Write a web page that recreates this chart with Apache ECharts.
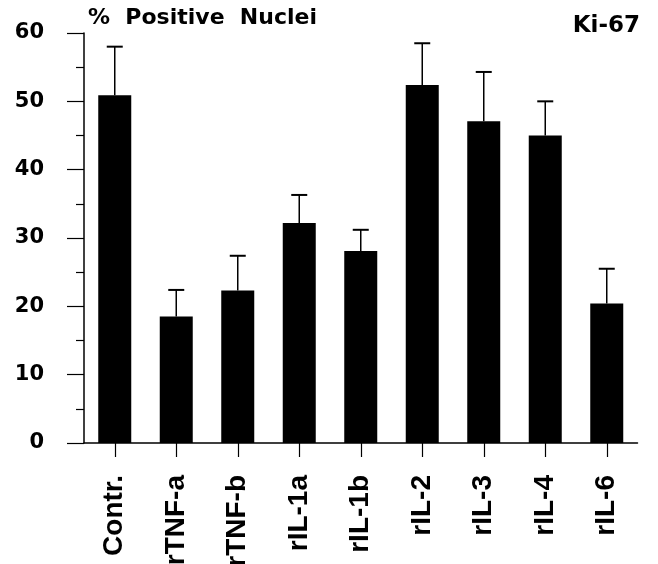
<!DOCTYPE html>
<html>
<head>
<meta charset="utf-8">
<script src="https://cdn.jsdelivr.net/npm/echarts@6/dist/echarts.min.js"></script>
<style>html,body{margin:0;padding:0;background:#fff}#c{width:658px;height:564px}</style>
</head>
<body>
<div id="c"></div>
<script>
const categories = ['Contr.', 'rTNF-a', 'rTNF-b', 'rIL-1a', 'rIL-1b', 'rIL-2', 'rIL-3', 'rIL-4', 'rIL-6'];
const means = [50.9, 18.5, 22.3, 32.2, 28.1, 52.4, 47.1, 45.0, 20.4];
const errTops = [58.0, 22.4, 27.4, 36.3, 31.2, 58.5, 54.3, 50.0, 25.5];
const yTicks = [0, 10, 20, 30, 40, 50, 60];

const chart = echarts.init(document.getElementById('c'), null, {renderer: 'canvas'});
const errData = categories.map((c, i) => [i, means[i], errTops[i]]);

chart.setOption({
  animation: false,
  backgroundColor: '#fff',
  grid: {left: 84, right: 20.5, top: 33, bottom: 121, containLabel: false, outerBoundsMode: 'none'},
  graphic: [
    {type: 'text', left: 88, top: 7, style: {text: '%  Positive  Nuclei', font: 'bold 22px "DejaVu Sans"', fill: '#000'}},
    {type: 'text', right: 18, top: 15, style: {text: 'Ki-67', font: 'bold 23px "DejaVu Sans"', fill: '#000'}}
  ],
  xAxis: {
    type: 'category',
    data: categories,
    axisLine: {show: true, lineStyle: {color: '#000', width: 1.5}},
    axisTick: {show: true, alignWithLabel: true, length: 14, lineStyle: {color: '#000', width: 1.2}},
    axisLabel: {rotate: 90, margin: 32, color: '#000', fontFamily: '"Liberation Sans", Arial', fontWeight: 'bold', fontSize: 28}
  },
  yAxis: {
    type: 'value',
    min: yTicks[0], max: yTicks[yTicks.length - 1], interval: 10,
    splitLine: {show: false},
    axisLine: {show: true, lineStyle: {color: '#000', width: 1.5}},
    axisTick: {show: true, length: 17, lineStyle: {color: '#000', width: 1.2}},
    minorTick: {show: true, splitNumber: 2, length: 8, lineStyle: {color: '#000', width: 1.2}},
    axisLabel: {margin: 40, color: '#000', fontFamily: '"DejaVu Sans"', fontWeight: 'bold', fontSize: 21}
  },
  series: [
    {
      type: 'bar',
      data: means,
      barWidth: 33,
      itemStyle: {color: '#000'},
      z: 2
    },
    {
      type: 'custom',
      data: errData,
      z: 3,
      renderItem: function (params, api) {
        const x = api.value(0);
        const low = api.coord([x, api.value(1)]);
        const high = api.coord([x, api.value(2)]);
        const half = 8;
        return {
          type: 'group',
          children: [
            {type: 'line', shape: {x1: low[0], y1: low[1], x2: high[0], y2: high[1]}, style: {stroke: '#000', lineWidth: 1.5}},
            {type: 'line', shape: {x1: high[0] - half, y1: high[1], x2: high[0] + half, y2: high[1]}, style: {stroke: '#000', lineWidth: 2}}
          ]
        };
      }
    }
  ]
});
</script>
</body>
</html>
